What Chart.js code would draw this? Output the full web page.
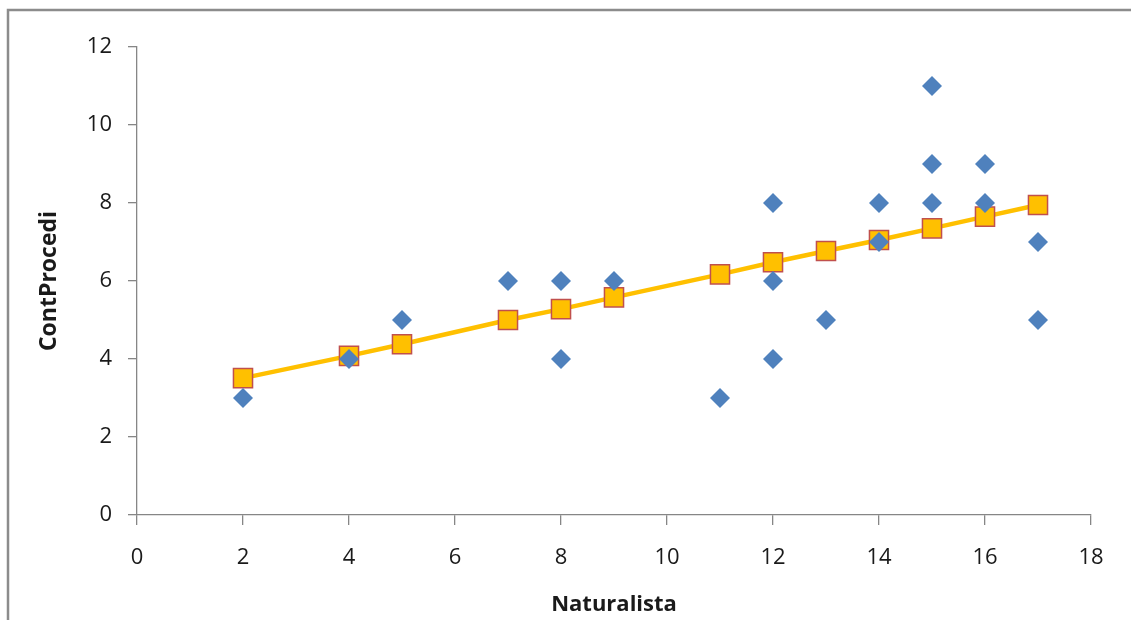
<!DOCTYPE html>
<html>
<head>
<meta charset="utf-8">
<script src="https://cdn.jsdelivr.net/npm/chart.js@4/dist/chart.umd.min.js"></script>
<style>
  html, body { margin: 0; padding: 0; background: #ffffff; }
  #wrap { width: 1131px; height: 620px; }
</style>
</head>
<body>
<div id="wrap"><canvas id="c" width="1131" height="620"></canvas></div>
<script>
// Observed data (Naturalista vs ContProcedi)
const naturalista = [2, 4, 5, 7, 8, 8, 9, 11, 12, 12, 12, 13, 14, 14, 15, 15, 15, 16, 16, 17, 17];
const contProcedi = [3, 4, 5, 6, 6, 4, 6, 3, 8, 6, 4, 5, 8, 7, 11, 9, 8, 9, 8, 7, 5];
// Predicted (trend) values
const predX = [2, 4, 5, 7, 8, 9, 11, 12, 13, 14, 15, 16, 17];
const predY = [3.51, 4.08, 4.38, 5.0, 5.28, 5.58, 6.17, 6.48, 6.77, 7.05, 7.35, 7.65, 7.95];
const xTitle = 'Naturalista';
const yTitle = 'ContProcedi';

const observed = naturalista.map((x, i) => ({ x: x, y: contProcedi[i] }));
const predicted = predX.map((x, i) => ({ x: x, y: predY[i] }));

const framePlugin = {
  id: 'frame',
  beforeDraw(chart) {
    const ctx = chart.ctx;
    ctx.save();
    ctx.fillStyle = '#ffffff';
    ctx.fillRect(0, 0, chart.width, chart.height);
    ctx.strokeStyle = '#8c8c8c';
    ctx.lineWidth = 2.5;
    ctx.beginPath();
    ctx.moveTo(8, 620);
    ctx.lineTo(8, 10);
    ctx.lineTo(1131, 10);
    ctx.stroke();
    ctx.restore();
  }
};

const axisColor = '#868686';
const tickFont = { family: 'Open Sans', size: 22 };
const xTitleFont = { family: 'Open Sans', size: 22, weight: 'bold' };
const yTitleFont = { family: 'Open Sans', size: 23, weight: 'bold' };

new Chart(document.getElementById('c'), {
  type: 'scatter',
  data: {
    datasets: [
      {
        label: 'ContProcedi',
        data: observed,
        pointStyle: 'rectRot',
        pointRadius: 10,
        pointHoverRadius: 10,
        backgroundColor: '#4F81BD',
        borderColor: '#4F81BD',
        borderWidth: 0,
        showLine: false
      },
      {
        label: 'Pronosticado',
        data: predicted,
        showLine: true,
        borderColor: '#FFC000',
        borderWidth: 4.5,
        pointStyle: 'rect',
        pointRadius: 13.5,
        pointHoverRadius: 13.5,
        pointBackgroundColor: '#FFC000',
        pointBorderColor: '#C0504D',
        pointBorderWidth: 1.5,
        backgroundColor: '#FFC000',
        tension: 0
      }
    ]
  },
  options: {
    responsive: false,
    animation: false,
    events: [],
    layout: { padding: { top: 47, right: 40, left: 0, bottom: 0 } },
    plugins: {
      legend: { display: false },
      tooltip: { enabled: false },
      title: { display: false }
    },
    scales: {
      x: {
        type: 'linear',
        min: 0, max: 18,
        afterFit(scale) { scale.height = 105; },
        ticks: { stepSize: 2, color: '#1a1a1a', font: tickFont, padding: 20, maxRotation: 0 },
        grid: { display: true, drawOnChartArea: false, drawTicks: true, tickLength: 10, color: axisColor, lineWidth: 1.3 },
        border: { display: true, color: axisColor, width: 1.3 },
        title: { display: true, text: xTitle, color: '#1a1a1a', font: xTitleFont, padding: { top: 0, bottom: 2 } }
      },
      y: {
        type: 'linear',
        min: 0, max: 12,
        afterFit(scale) { scale.width = 137; },
        ticks: { stepSize: 2, color: '#1a1a1a', font: tickFont, padding: 16 },
        grid: { display: true, drawOnChartArea: false, drawTicks: true, tickLength: 9, color: axisColor, lineWidth: 1.3 },
        border: { display: true, color: axisColor, width: 1.3 },
        title: { display: true, text: yTitle, color: '#1a1a1a', font: yTitleFont, padding: { top: 36, bottom: 0 } }
      }
    }
  },
  plugins: [framePlugin]
});
</script>
</body>
</html>
